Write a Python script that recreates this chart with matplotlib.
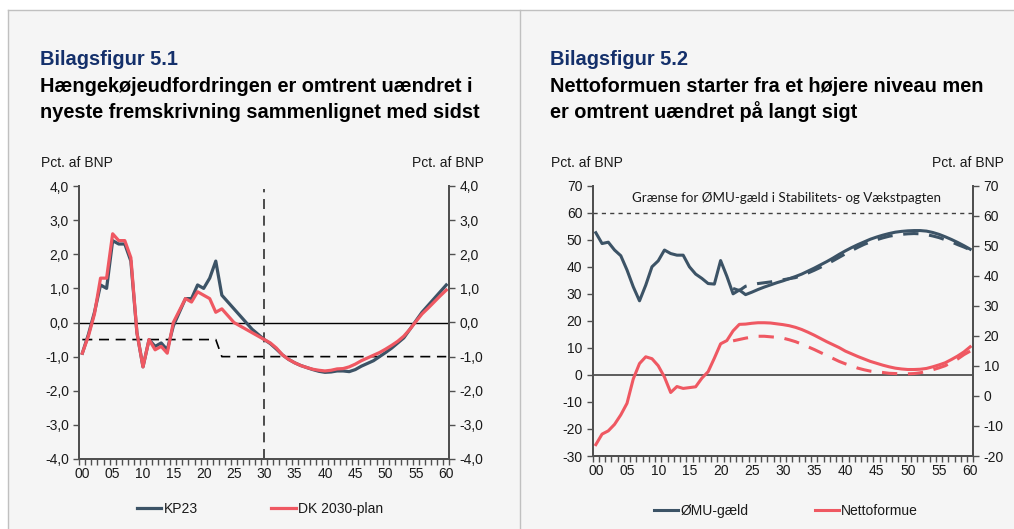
import matplotlib.pyplot as plt
import numpy as np
from matplotlib.ticker import FuncFormatter
from matplotlib.lines import Line2D
from matplotlib.patches import Rectangle

plt.rcParams['font.family'] = ['Liberation Sans', 'DejaVu Sans']

# --- data -------------------------------------------------------------
years = np.arange(0, 61)
year_labels = ['%02d' % y for y in range(0, 61, 5)]

# Bilagsfigur 5.1 (pct. af BNP)
kp23 = [-0.9, -0.35, 0.3, 1.1, 1.0, 2.4, 2.3, 2.3, 1.8, -0.3,
        -1.3, -0.5, -0.7, -0.6, -0.8, -0.1, 0.3, 0.7, 0.7, 1.1,
        1.0, 1.3, 1.8, 0.8, 0.6, 0.4, 0.2, 0.0, -0.2, -0.35,
        -0.5, -0.62, -0.78, -0.95, -1.08, -1.18, -1.26, -1.32, -1.38, -1.43,
        -1.46, -1.45, -1.42, -1.42, -1.44, -1.38, -1.28, -1.2, -1.12, -1.0,
        -0.88, -0.75, -0.6, -0.45, -0.2, 0.05, 0.3, 0.5, 0.7, 0.9,
        1.1]
dk2030 = [-0.9, -0.4, 0.25, 1.3, 1.3, 2.6, 2.4, 2.4, 1.9, -0.3,
          -1.3, -0.5, -0.8, -0.7, -0.9, 0.0, 0.35, 0.7, 0.6, 0.9,
          0.8, 0.7, 0.3, 0.4, 0.2, 0.0, -0.1, -0.2, -0.3, -0.4,
          -0.5, -0.6, -0.75, -0.95, -1.08, -1.18, -1.26, -1.32, -1.37, -1.4,
          -1.42, -1.4, -1.36, -1.35, -1.3, -1.22, -1.12, -1.04, -0.96, -0.88,
          -0.78, -0.67, -0.55, -0.4, -0.2, 0.03, 0.25, 0.42, 0.6, 0.78,
          0.95]
# strukturel saldo-graense: -0.5 til og med 22, derefter -1.0
graense = [-0.5] * 23 + [-1.0] * 38
skillelinje_aar = 30

# Bilagsfigur 5.2 (pct. af BNP)
omu_gaeld = [52.6, 48.6, 49.1, 46.2, 44.1, 38.8, 32.6, 27.4, 33.2, 40.0,
             42.2, 46.2, 44.9, 44.3, 44.3, 40.0, 37.3, 35.7, 33.8, 33.6,
             42.3, 36.5, 30.0, 31.4, 29.7, 30.6, 31.6, 32.5, 33.3, 34.1,
             34.8, 35.6, 36.4, 37.3, 38.4, 39.5, 40.7, 41.9, 43.2, 44.6,
             45.9, 47.1, 48.2, 49.2, 50.2, 51.0, 51.7, 52.3, 52.8, 53.1,
             53.3, 53.4, 53.4, 53.2, 52.7, 52.0, 51.1, 50.1, 49.0, 47.8,
             46.5]
nettoformue = [-25.8, -21.9, -20.7, -18.3, -14.8, -10.5, -1.5, 4.2, 6.7, 6.0,
               3.4, -0.8, -6.5, -4.3, -5.0, -4.7, -4.4, -1.2, 1.2, 6.2,
               11.5, 12.7, 16.3, 18.7, 18.8, 19.1, 19.3, 19.3, 19.2, 18.9,
               18.6, 18.2, 17.6, 16.8, 15.8, 14.7, 13.5, 12.3, 11.2, 10.1,
               8.8, 7.8, 6.8, 5.9, 5.0, 4.3, 3.6, 3.0, 2.5, 2.2,
               2.0, 2.0, 2.1, 2.4, 3.0, 3.7, 4.5, 5.7, 7.0, 8.5,
               10.4]
prev_years = np.arange(22, 61)
omu_gaeld_prev = [32.0, 31.2, 32.8, 33.4, 33.8, 34.1, 34.4, 34.8,
                  35.2, 35.6, 36.0, 36.8, 37.7, 38.7, 39.8, 41.0, 42.2, 43.5,
                  44.8, 46.0, 47.2, 48.3, 49.2, 50.0, 50.7, 51.3, 51.7, 52.0,
                  52.2, 52.3, 52.2, 51.9, 51.4, 50.8, 50.0, 49.2, 48.2, 47.3,
                  46.3]
nettoformue_prev = [12.6, 13.1, 13.6, 14.0, 14.3, 14.3, 14.1, 13.9,
                    13.6, 13.0, 12.3, 11.4, 10.4, 9.4, 8.3, 7.2, 6.1, 5.0,
                    4.1, 3.3, 2.5, 1.9, 1.4, 1.1, 0.9, 0.6, 0.5, 0.4,
                    0.4, 0.5, 0.8, 1.3, 1.9, 2.6, 3.4, 4.6, 5.9, 7.5,
                    8.8]
omu_graense = 60

# --- style ------------------------------------------------------------
DARK = '#3c5366'
RED = '#ef5862'
NAVY = '#14306b'
BG = '#f5f5f5'
AXC = '#505050'
TXT = '#1a1a1a'

W, H = 1014, 529
fig = plt.figure(figsize=(W / 100, H / 100), dpi=100)
fig.patch.set_facecolor('white')


def fx(px):
    return px / W


def fy(py):
    return 1 - py / H


fig.patches.append(Rectangle((fx(8), 0), 1 - fx(8), fy(10), transform=fig.transFigure,
                             facecolor=BG, edgecolor='none', zorder=-10))
for xs, ys in [([fx(8), 1], [fy(10), fy(10)]), ([fx(8), fx(8)], [0, fy(10)]),
               ([fx(520), fx(520)], [0, fy(10)])]:
    fig.lines.append(Line2D(xs, ys, transform=fig.transFigure, color='#c0c0c0', lw=1))

comma = FuncFormatter(lambda v, p: ('%.1f' % v).replace('.', ','))
intfmt = FuncFormatter(lambda v, p: '%d' % v)


def style(ax, twin, ylim, yticks, twin_lim, twin_ticks, fmt):
    ax.set_facecolor(BG)
    ax.set_xlim(-0.5, 60.5)
    ax.set_ylim(*ylim)
    ax.set_yticks(yticks)
    ax.yaxis.set_major_formatter(fmt)
    ax.set_xticks(range(0, 61, 5))
    ax.set_xticklabels(year_labels)
    ax.set_xticks(np.arange(-0.5, 61, 1), minor=True)
    ax.tick_params(axis='x', which='major', length=0, pad=6, labelsize=10, labelcolor=TXT)
    ax.tick_params(axis='x', which='minor', direction='out', length=4, width=1, color=AXC)
    ax.tick_params(axis='y', direction='out', length=4, width=1, color=AXC,
                   labelsize=10, labelcolor=TXT)
    twin.set_ylim(*twin_lim)
    twin.set_yticks(twin_ticks)
    twin.yaxis.set_major_formatter(fmt)
    twin.tick_params(axis='y', direction='out', length=4, width=1, color=AXC,
                     labelsize=10, labelcolor=TXT)
    for a in (ax, twin):
        a.spines['top'].set_visible(False)
        for s in ('left', 'right', 'bottom'):
            a.spines[s].set_color(AXC)
            a.spines[s].set_linewidth(1.4)


# --- Bilagsfigur 5.1 ----------------------------------------------------
ax1 = fig.add_axes([fx(79.3), fy(459), fx(449.3) - fx(79.3), fy(186) - fy(459)])
ax1r = ax1.twinx()
style(ax1, ax1r, (-4, 4), np.arange(-4, 4.1, 1), (-4, 4), np.arange(-4, 4.1, 1), comma)
ax1.axhline(0, color='black', lw=1, zorder=1)
ax1.plot(years, graense, color='black', lw=1.2, dashes=(6, 4), zorder=2)
ax1.axvline(skillelinje_aar, ymax=0.99, color='#303030', lw=1.2, dashes=(6, 4), zorder=2)
l1, = ax1.plot(years, kp23, color=DARK, lw=2.3, zorder=3, label='KP23')
l2, = ax1.plot(years, dk2030, color=RED, lw=2.3, zorder=4, label='DK 2030-plan')
ax1.legend(handles=[l1, l2], loc='center', bbox_to_anchor=(fx(260), fy(509)),
           bbox_transform=fig.transFigure, ncol=2, frameon=False, fontsize=10,
           handlelength=1.75, handletextpad=0.15, columnspacing=5.3,
           labelcolor=TXT)

# --- Bilagsfigur 5.2 ----------------------------------------------------
ax2 = fig.add_axes([fx(592.7), fy(456), fx(973.3) - fx(592.7), fy(185.7) - fy(456)])
ax2r = ax2.twinx()
style(ax2, ax2r, (-30, 70), np.arange(-30, 71, 10), (-20, 70), np.arange(-20, 71, 10), intfmt)
ax2.axhline(0, color=AXC, lw=1.3, zorder=1)
ax2.axhline(omu_graense, color='#404040', lw=1, dashes=(3, 3), zorder=1)
ax2.text(30.5, 65.3, 'Grænse for ØMU-gæld i Stabilitets- og Vækstpagten', ha='center',
         va='center', fontsize=9.6, color=TXT, family=['Lato', 'DejaVu Sans'])
l3, = ax2.plot(years, omu_gaeld, color=DARK, lw=2.2, zorder=3, label='ØMU-gæld')
ax2.plot(prev_years, omu_gaeld_prev, color=DARK, lw=2.2, dashes=(5, 3.5), zorder=3)
l4, = ax2.plot(years, nettoformue, color=RED, lw=2.2, zorder=3, label='Nettoformue')
ax2.plot(prev_years, nettoformue_prev, color=RED, lw=2.2, dashes=(5, 3.5), zorder=3)
ax2.legend(handles=[l3, l4], loc='center', bbox_to_anchor=(fx(786), fy(511)),
           bbox_transform=fig.transFigure, ncol=2, frameon=False, fontsize=10,
           handlelength=1.75, handletextpad=0.15, columnspacing=4.8,
           labelcolor=TXT)

# --- titles -------------------------------------------------------------
for x0, x1, num, lines in [(40, 484, '5.1', ['Hængekøjeudfordringen er omtrent uændret i',
                                           'nyeste fremskrivning sammenlignet med sidst']),
                          (550, 1004, '5.2', ['Nettoformuen starter fra et højere niveau men',
                                              'er omtrent uændret på langt sigt'])]:
    fig.text(fx(x0), fy(65), 'Bilagsfigur ' + num, fontsize=14.4, weight='bold',
             color=NAVY, va='baseline')
    fig.text(fx(x0), fy(92.5), lines[0], fontsize=14.4, weight='bold', color='black',
             va='baseline')
    fig.text(fx(x0), fy(117.5), lines[1], fontsize=14.4, weight='bold', color='black',
             va='baseline')
    fig.text(fx(x0 + 1), fy(167), 'Pct. af BNP', fontsize=10, color=TXT, va='baseline')
    fig.text(fx(x1), fy(167), 'Pct. af BNP', fontsize=10, color=TXT, va='baseline',
             ha='right')

fig.savefig('out.png', dpi=100, facecolor=fig.get_facecolor())
